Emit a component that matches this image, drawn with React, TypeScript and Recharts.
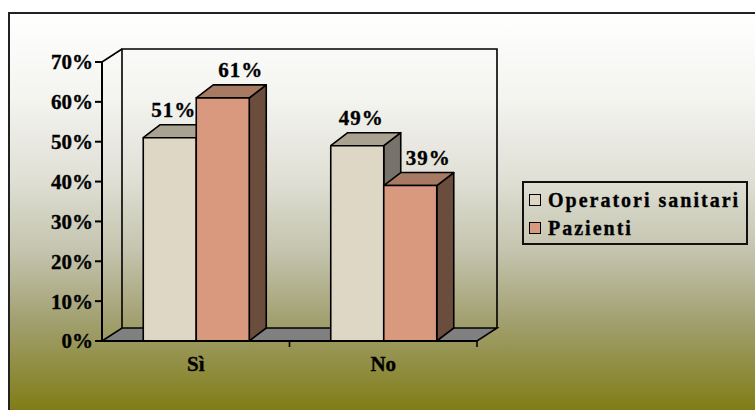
import React from "react";
import { BarChart, Bar, XAxis, YAxis, ReferenceArea, Legend, LabelList } from "recharts";

const categories = ["Sì", "No"];
const operatoriValues = [51, 49];
const pazientiValues = [61, 39];
const yTicks = [0, 10, 20, 30, 40, 50, 60, 70];

const data = categories.map((name, i) => ({
  name,
  operatori: operatoriValues[i],
  pazienti: pazientiValues[i],
}));

const FONT = '"Liberation Serif", "Times New Roman", serif';

// depth of the 3D boxes and of the back wall
const DX = 17;
const DY = 13;
const WALL_DX = 20;
const WALL_DY = 13;

const OPERATORI = { front: "#DFD7C5", top: "#A9A291", side: "#77726A" };
const PAZIENTI = { front: "#D8997F", top: "#A77A64", side: "#6B4D3E" };

const tickStyle = {
  fill: "#000",
  stroke: "#000",
  strokeWidth: 0.35,
  fontSize: 21,
  fontWeight: "bold",
  fontFamily: FONT,
};

const box = (c: { front: string; top: string; side: string }) => (props: any) => {
  const { x, y, width, height } = props;
  const r = x + width;
  const b = y + height;
  return (
    <g stroke="#000" strokeWidth={1.6} strokeLinejoin="round">
      <polygon points={`${r},${y} ${r + DX},${y - DY} ${r + DX},${b - DY} ${r},${b}`} fill={c.side} />
      <polygon points={`${x},${y} ${x + DX},${y - DY} ${r + DX},${y - DY} ${r},${y}`} fill={c.top} />
      <rect x={x} y={y} width={width} height={height} fill={c.front} />
    </g>
  );
};

const valueLabel = (shift: number) => (props: any) => {
  const { x, y, width, value } = props;
  return (
    <text
      x={x + width / 2 + shift}
      y={y - 21}
      textAnchor="middle"
      fontFamily={FONT}
      fontWeight="bold"
      fontSize={21}
      letterSpacing={1}
      fill="#000"
      stroke="#000"
      strokeWidth={0.35}
    >
      {value}%
    </text>
  );
};

// floor, back wall and category boundary ticks
const Walls = (props: any) => {
  const { x, y, width, height } = props;
  const r = x + width;
  const b = y + height;
  const n = categories.length;
  return (
    <g stroke="#000" strokeWidth={1.6} fill="none">
      <polygon
        points={`${x},${b} ${r},${b} ${r + WALL_DX},${b - WALL_DY} ${x + WALL_DX},${b - WALL_DY}`}
        fill="#808080"
      />
      <path
        d={`M${x + WALL_DX},${b - WALL_DY} V${y - WALL_DY} H${r + WALL_DX} V${b - WALL_DY}`}
      />
      <line x1={x} y1={y} x2={x + WALL_DX} y2={y - WALL_DY} />
      {Array.from({ length: n }, (_, i) => {
        const tx = x + ((i + 1) * width) / n;
        return <line key={i} x1={tx} y1={b} x2={tx} y2={b + 6} />;
      })}
    </g>
  );
};

const LegendBox = () => {
  const items = [
    { label: "Operatori sanitari", color: OPERATORI.front },
    { label: "Pazienti", color: PAZIENTI.front },
  ];
  return (
    <div
      style={{
        boxSizing: "border-box",
        width: 226,
        height: 64,
        border: "2px solid #111",
        padding: "3px 5px",
        fontFamily: FONT,
        fontWeight: "bold",
        fontSize: 20,
        letterSpacing: 2,
        color: "#000",
        WebkitTextStroke: "0.35px #000",
      }}
    >
      {items.map((it) => (
        <div
          key={it.label}
          style={{ display: "flex", alignItems: "center", height: 28, whiteSpace: "nowrap" }}
        >
          <span
            style={{
              display: "inline-block",
              width: 10,
              height: 10,
              border: "1.5px solid #000",
              background: it.color,
              marginRight: 7,
            }}
          />
          {it.label}
        </div>
      ))}
    </div>
  );
};

export default function App() {
  return (
    <div
      style={{
        position: "fixed",
        left: 0,
        top: 0,
        width: 755,
        height: 410,
        overflow: "hidden",
        background: "#fff",
      }}
    >
      <div
        style={{
          position: "absolute",
          left: 8,
          top: 12,
          width: 760,
          height: 398,
          borderTop: "2px solid #222",
          borderLeft: "2px solid #222",
          background:
            "linear-gradient(to bottom, #FFFFFF 0%, #F3F3EF 22%, #E0E0D6 41%, #C3C3AD 60%, #A2A070 77%, #7F7C15 100%)",
        }}
      />
      <div style={{ position: "absolute", left: 0, top: 0 }}>
        <BarChart
          width={755}
          height={410}
          data={data}
          margin={{ top: 62, right: 278, bottom: 39, left: 0 }}
          barGap={0}
          barCategoryGap="22%"
        >
          <ReferenceArea y1={0} y2={70} shape={<Walls />} ifOverflow="visible" />
          <XAxis
            dataKey="name"
            axisLine={{ stroke: "#000", strokeWidth: 2 }}
            tickLine={false}
            tickSize={0}
            tickMargin={15}
            height={30}
            tick={tickStyle}
          />
          <YAxis
            domain={[0, 70]}
            ticks={yTicks}
            tickFormatter={(v: number) => `${v}%`}
            width={102}
            axisLine={{ stroke: "#000", strokeWidth: 2 }}
            tickLine={{ stroke: "#000", strokeWidth: 2 }}
            tickSize={7}
            tickMargin={2}
            tick={tickStyle}
          />
          <Bar
            dataKey="operatori"
            name="Operatori sanitari"
            fill={OPERATORI.front}
            shape={box(OPERATORI)}
            isAnimationActive={false}
          >
            <LabelList dataKey="operatori" content={valueLabel(4)} />
          </Bar>
          <Bar
            dataKey="pazienti"
            name="Pazienti"
            fill={PAZIENTI.front}
            shape={box(PAZIENTI)}
            isAnimationActive={false}
          >
            <LabelList dataKey="pazienti" content={valueLabel(18)} />
          </Bar>
          <Legend
            layout="horizontal"
            verticalAlign="middle"
            align="center"
            wrapperStyle={{ left: 522, top: 181, width: 226, height: 64 }}
            content={() => <LegendBox />}
          />
        </BarChart>
      </div>
    </div>
  );
}
